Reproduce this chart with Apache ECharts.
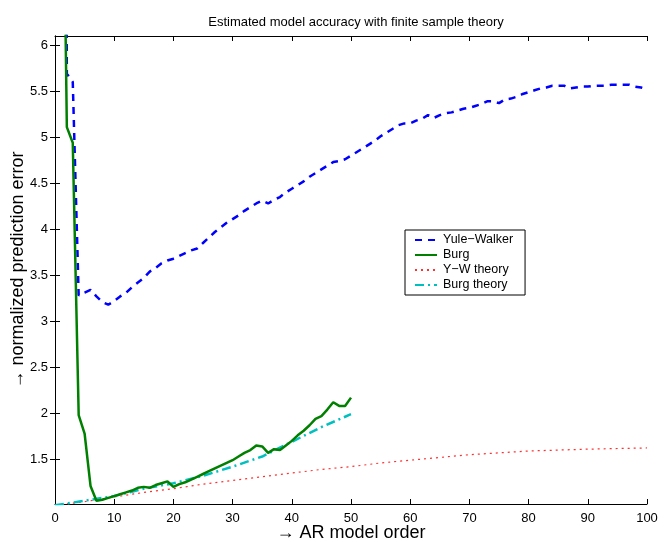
<!DOCTYPE html>
<html>
<head>
<meta charset="utf-8">
<script src="https://cdn.jsdelivr.net/npm/echarts@6/dist/echarts.min.js"></script>
<style>html,body{margin:0;padding:0;background:#fff;}#c{width:671px;height:542px;}</style>
</head>
<body>
<div id="c"></div>
<script>
// AR model orders
const orders = Array.from({length: 100}, (_, i) => i + 1);
// Yule-Walker normalized prediction error (orders 1..100)
const yuleWalker = [20, 5.69, 5.6, 3.28, 3.31, 3.34, 3.27, 3.21, 3.18, 3.22,
  3.27, 3.31, 3.37, 3.42, 3.47, 3.54, 3.58, 3.63, 3.66, 3.68,
  3.71, 3.74, 3.77, 3.79, 3.85, 3.91, 3.97, 4.02, 4.07, 4.11,
  4.15, 4.20, 4.24, 4.28, 4.31, 4.28, 4.32, 4.35, 4.40, 4.44,
  4.48, 4.52, 4.57, 4.61, 4.65, 4.69, 4.73, 4.74, 4.76, 4.80,
  4.84, 4.88, 4.92, 4.96, 5.01, 5.05, 5.09, 5.13, 5.15, 5.15,
  5.18, 5.20, 5.24, 5.21, 5.24, 5.26, 5.27, 5.29, 5.31, 5.32,
  5.34, 5.36, 5.39, 5.39, 5.37, 5.41, 5.42, 5.44, 5.47, 5.49,
  5.51, 5.53, 5.54, 5.56, 5.56, 5.56, 5.53, 5.54, 5.55, 5.55,
  5.56, 5.56, 5.56, 5.57, 5.57, 5.57, 5.57, 5.55, 5.54, 5.52];
// Burg normalized prediction error (orders 1..50)
const burg = [10, 5.11, 4.94, 1.98, 1.78, 1.21, 1.05, 1.06, 1.08, 1.10,
  1.12, 1.14, 1.16, 1.19, 1.20, 1.19, 1.22, 1.24, 1.26, 1.20,
  1.23, 1.25, 1.28, 1.31, 1.34, 1.37, 1.40, 1.43, 1.46, 1.49,
  1.53, 1.57, 1.60, 1.65, 1.64, 1.57, 1.61, 1.60, 1.65, 1.70,
  1.76, 1.81, 1.87, 1.94, 1.97, 2.04, 2.12, 2.08, 2.08, 2.17];
// Theory curves (read at every 5th order)
const ywTheoryX = [0, 5, 10, 15, 20, 25, 30, 35, 40, 45, 50, 55, 60, 65, 70, 75, 80, 85, 90, 95, 100];
const ywTheory = [1.0, 1.04, 1.09, 1.14, 1.18, 1.23, 1.27, 1.31, 1.35, 1.39, 1.42, 1.46, 1.49, 1.52, 1.55, 1.57, 1.59, 1.60, 1.61, 1.617, 1.623];
const burgTheoryX = [0, 5, 10, 15, 20, 25, 30, 35, 40, 45, 50];
const burgTheory = [1.0, 1.05, 1.10, 1.18, 1.24, 1.32, 1.42, 1.53, 1.69, 1.85, 1.99];
const yTicks = [1.5, 2, 2.5, 3, 3.5, 4, 4.5, 5, 5.5, 6];

const pairs = (xs, ys) => ys.map((v, i) => [xs[i], v]);
const FONT = "'Liberation Sans', Arial, Helvetica, sans-serif";

const chart = echarts.init(document.getElementById('c'), null, {renderer: 'canvas'});
const xBase = {type: 'value', min: 0, max: 100, interval: 10, splitLine: {show: false},
  axisLine: {lineStyle: {color: '#000', width: 1}},
  axisTick: {inside: true, length: 5, lineStyle: {color: '#000'}}};
const yBase = {type: 'value', min: 1.014, max: 6.1, splitLine: {show: false},
  axisLine: {show: true, lineStyle: {color: '#000', width: 1}},
  axisTick: {show: true, inside: true, length: 5, customValues: yTicks, lineStyle: {color: '#000'}}};

chart.setOption({
  animation: false,
  backgroundColor: '#fff',
  title: {text: 'Estimated model accuracy with finite sample theory', left: 351, textAlign: 'center', top: 11,
    textStyle: {fontFamily: FONT, fontSize: 13, fontWeight: 'normal', color: '#000'}},
  grid: {left: 55, right: 24, top: 36, bottom: 38, containLabel: false, outerBoundsMode: 'none'},
  legend: {orient: 'vertical', left: 405, top: 230, itemWidth: 22, itemHeight: 10, itemGap: 1,
    borderColor: '#000', borderWidth: 1, backgroundColor: '#fff', padding: [3, 12, 3, 9],
    itemStyle: {opacity: 0},
    textStyle: {fontFamily: FONT, fontSize: 12.5, lineHeight: 14, color: '#000', padding: [0, 0, 0, 1]},
    data: ['Yule\u2212Walker', 'Burg', 'Y\u2212W theory', 'Burg theory']},
  xAxis: [
    Object.assign({}, xBase, {position: 'bottom', name: '\u2192 AR model order', nameLocation: 'middle', nameGap: 20,
      nameMoveOverlap: false,
      nameTextStyle: {fontFamily: FONT, fontSize: 18, color: '#000'},
      axisLabel: {fontFamily: FONT, fontSize: 13, color: '#000', margin: 8}}),
    Object.assign({}, xBase, {position: 'top', axisLabel: {show: false}})
  ],
  yAxis: [
    Object.assign({}, yBase, {position: 'left', name: '\u2192 normalized prediction error', nameLocation: 'middle', nameGap: 28,
      nameMoveOverlap: false,
      nameTextStyle: {fontFamily: FONT, fontSize: 18, color: '#000'},
      axisLabel: {fontFamily: FONT, fontSize: 13, color: '#000', margin: 7, customValues: yTicks}}),
    Object.assign({}, yBase, {position: 'right', axisLabel: {show: false}})
  ],
  series: [
    {name: 'Yule\u2212Walker', type: 'line', data: pairs(orders, yuleWalker), showSymbol: false, symbol: 'none',
      lineStyle: {color: '#0000ff', width: 2.5, type: [7, 6]}, itemStyle: {color: '#0000ff'}, z: 3},
    {name: 'Burg', type: 'line', data: pairs(orders, burg), showSymbol: false, symbol: 'none',
      lineStyle: {color: '#008000', width: 2.5}, itemStyle: {color: '#008000'}, z: 4},
    {name: 'Y\u2212W theory', type: 'line', data: pairs(ywTheoryX, ywTheory), showSymbol: false, symbol: 'none',
      lineStyle: {color: '#ff3030', width: 1.2, type: [2, 4]}, itemStyle: {color: '#ff3030'}, z: 2},
    {name: 'Burg theory', type: 'line', data: pairs(burgTheoryX, burgTheory), showSymbol: false, symbol: 'none',
      lineStyle: {color: '#00bfbf', width: 2.5, type: [9, 4, 2, 4]}, itemStyle: {color: '#00bfbf'}, z: 3}
  ]
});
</script>
</body>
</html>
